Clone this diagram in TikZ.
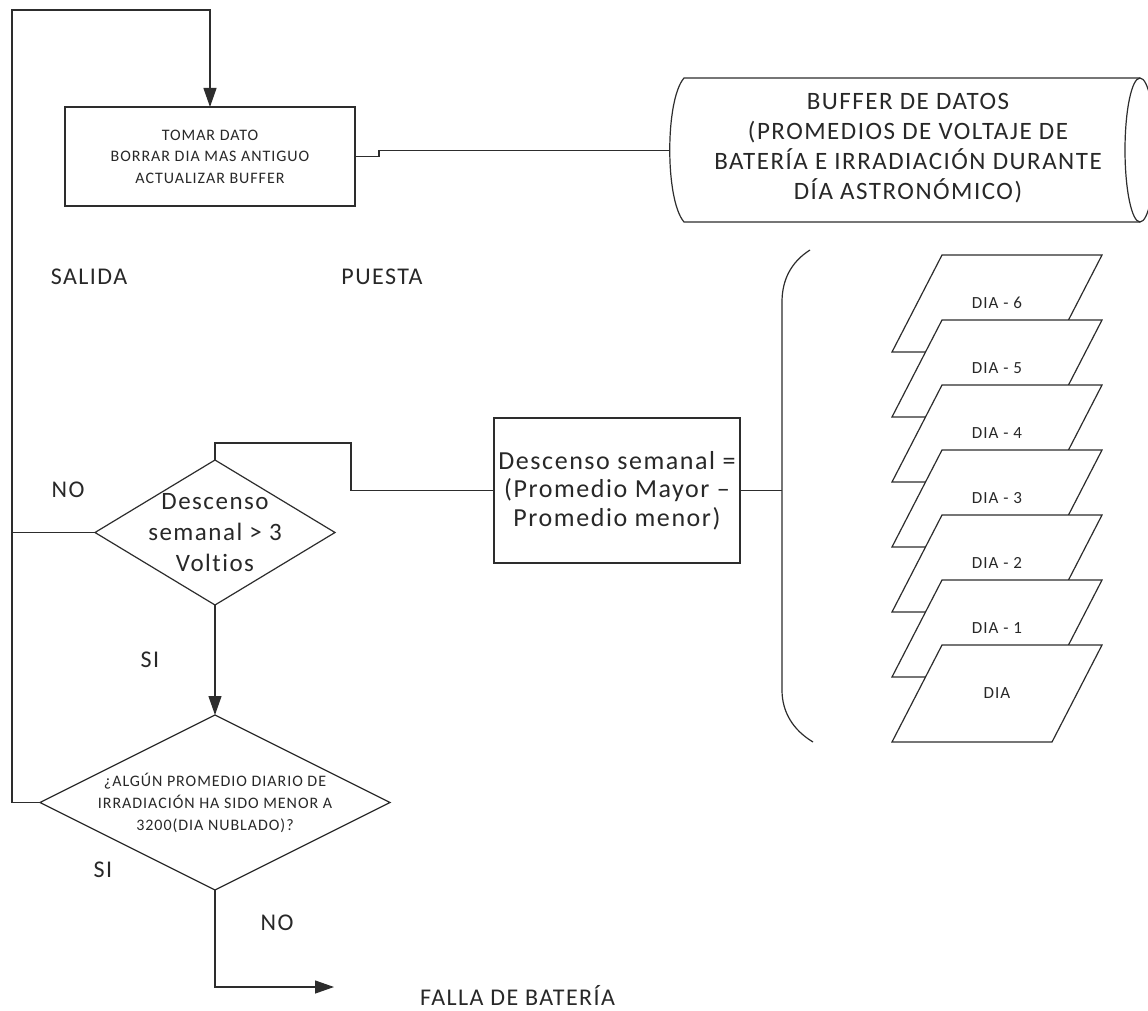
\documentclass[tikz,border=0pt]{standalone}
\usepackage{fontspec}
\setmainfont{Carlito}[LetterSpace=6,Ligatures=NoCommon]
\usetikzlibrary{arrows.meta,shapes.geometric}
\definecolor{lncol}{RGB}{45,45,45}
\definecolor{txcol}{RGB}{40,40,40}
\begin{document}
\begin{tikzpicture}[x=1pt,y=-1pt,
  every node/.style={text=txcol},
  ln/.style={draw=lncol,line width=1.2pt},
  arr/.style={ln,-{Triangle[length=19pt,width=13pt]}},
  big/.style={font=\fontsize{24}{29.5}\selectfont,align=center,inner sep=0pt},
  small/.style={font=\fontsize{16}{21.5}\selectfont,align=center,inner sep=0pt},
  boxst/.style={draw=lncol,line width=1.2pt,fill=white,outer sep=0pt},
  diast/.style={shape=diamond,draw=lncol,line width=1.2pt,outer sep=0pt,inner sep=0pt}]
\useasboundingbox (0,0) rectangle (1148,1011);
\fill[white] (0,0) rectangle (1148,1011);

% process box
\node[boxst,minimum width=290pt,minimum height=99pt,small] (b1) at (210,156.5)
  {TOMAR DATO\\BORRAR DIA MAS ANTIGUO\\ACTUALIZAR BUFFER};

% buffer cylinder
\draw[ln] (1140,78) -- (684,78) .. controls (665,100) and (665,200) .. (684,222) -- (1140,222);
\begin{scope}
  \clip (0,0) rectangle (1148,1011);
  \draw[ln] (1140,150) ellipse [x radius=15, y radius=72];
\end{scope}
\node[big,font=\fontsize{25}{30}\selectfont] (buf) at (908,148)
  {BUFFER DE DATOS\\(PROMEDIOS DE VOLTAJE DE\\BATERÍA E IRRADIACIÓN DURANTE\\DÍA ASTRONÓMICO)};
\coordinate (bufin) at (670,150.5);
\draw[ln] (b1.east) -- ++(24,0) -- ++(0,-6) -- (bufin);

% labels
\node[big] (sal) at (89,277) {SALIDA};
\node[big] (pue) at (382,277) {PUESTA};

% calc box
\node[boxst,minimum width=246pt,minimum height=145pt,big,font=\fontsize{26}{28.5}\selectfont] (b2) at (617,490.5)
  {Descenso semanal =\\(Promedio Mayor –\\Promedio menor)};

% decision 1
\node[diast,minimum width=240pt,minimum height=145pt] (d1) at (215,532.5) {};
\node[big,font=\fontsize{25}{31}\selectfont] (d1t) at (d1.center) {Descenso\\semanal > 3\\Voltios};

% decision 2
\node[diast,minimum width=350pt,minimum height=175pt] (d2) at (215,802.5) {};
\node[small,font=\fontsize{16}{22}\selectfont] (d2t) at (d2.center)
  {¿ALGÚN PROMEDIO DIARIO DE\\IRRADIACIÓN HA SIDO MENOR A\\3200(DIA NUBLADO)?};

% connectors
\coordinate (lpT) at (12,10);
\coordinate (lpB) at (12,802.5);
\draw[arr] (d2.west) -- (lpB) -- (lpT) -| (b1.north);
\draw[ln] (d1.west) -- (d1.west -| lpT);
\draw[arr] (d1.south) -- (d2.north);
\coordinate (k1) at (351,443);
\draw[ln] (d1.north) |- (k1) |- (b2.west);
\coordinate (ar) at (334,987);
\draw[arr] (d2.south) |- (ar);

% brace
\coordinate (brm) at (782,490.5);
\draw[ln] (810,250) .. controls (791,262) and (782,280) .. (782,302) -- (782,690)
  .. controls (782,712) and (793,730) .. (813,742);
\draw[ln] (b2.east) -- (brm);

% day stack
\foreach \i/\lab in {0/DIA - 6,1/DIA - 5,2/DIA - 4,3/DIA - 3,4/DIA - 2,5/DIA - 1,6/DIA}{
  \pgfmathsetmacro\ty{255+65*\i}
  \draw[ln,fill=white] (942,\ty) -- (1102,\ty) -- (1052,\ty+97) -- (892,\ty+97) -- cycle;
  \node[small,font=\fontsize{17}{21}\selectfont] (p\i) at (997,\ty+48) {\lab};
}

% branch labels
\node[big] (no1) at (68,490) {NO};
\node[big] (si1) at (150,660) {SI};
\node[big] (si2) at (103,870) {SI};
\node[big] (no2) at (277,923) {NO};
\node[big,anchor=west] (fl) at (420,995) {FALLA DE BATERÍA};
\end{tikzpicture}
\end{document}
